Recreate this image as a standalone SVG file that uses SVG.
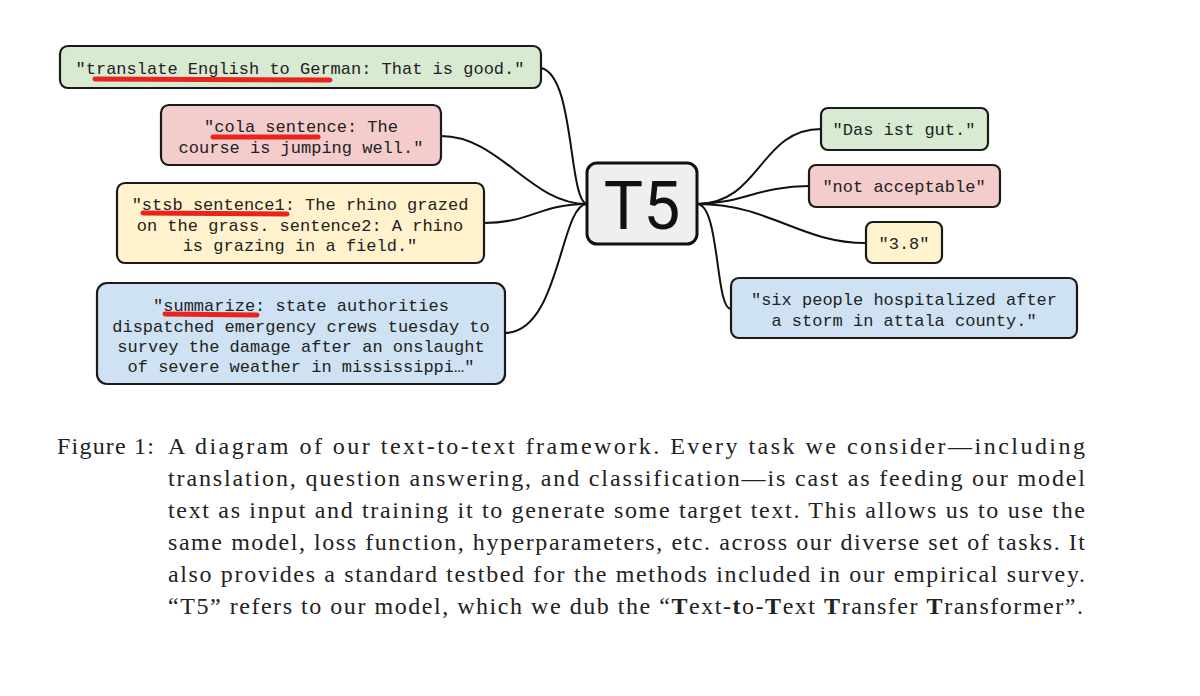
<svg xmlns="http://www.w3.org/2000/svg" width="1200" height="696" viewBox="0 0 1200 696">
<style>
.b{stroke:#1a1a1a;stroke-width:2.2}
.g{fill:#d9ead3}.r{fill:#f4cccc}.y{fill:#fff2cc}.bl{fill:#cfe2f3}
.m{font-family:"Liberation Mono","DejaVu Sans Mono",monospace;font-size:17px;fill:#222;text-anchor:middle}
.u{stroke:#e8241c;stroke-width:5;stroke-linecap:round;fill:none}
.c{fill:none;stroke:#111;stroke-width:2}
.cap{font-family:"Liberation Serif","DejaVu Serif",serif;font-size:24px;fill:#222}
</style>
<rect width="1200" height="696" fill="#fff"/>
<g id="connectors">
<path class="c" d="M541,68 C575,75 568,200 587,204"/>
<path class="c" d="M441,136 C500,136 530,204 587,204"/>
<path class="c" d="M484,223 C530,223 540,204 587,204"/>
<path class="c" d="M505,333 C560,333 560,204 587,204"/>
<path class="c" d="M697,204 C760,204 760,129 821,129"/>
<path class="c" d="M697,204 C740,204 760,186 809,186"/>
<path class="c" d="M697,204 C770,204 800,243 866,243"/>
<path class="c" d="M697,204 C720,204 715,309 731,309"/>
</g>
<g id="in1"><rect class="b g" x="60" y="46" width="481" height="42" rx="8"/><text class="m" x="300" y="74">"translate English to German: That is good."</text><path class="u" d="M95,79 L330,80"/></g>
<g id="in2"><rect class="b r" x="161" y="105" width="280" height="60" rx="8"/><text class="m" x="301" y="132">"cola sentence: The</text><text class="m" x="301" y="153">course is jumping well."</text><path class="u" d="M213,137 L318,137"/></g>
<g id="in3"><rect class="b y" x="117" y="183" width="367" height="80" rx="8"/><text class="m" x="300" y="210">"stsb sentence1: The rhino grazed</text><text class="m" x="300" y="231">on the grass. sentence2: A rhino</text><text class="m" x="300" y="251">is grazing in a field."</text><path class="u" d="M143,213 L287,214"/></g>
<g id="in4"><rect class="b bl" x="97" y="283" width="408" height="101" rx="10"/><text class="m" x="301" y="311">"summarize: state authorities</text><text class="m" x="301" y="332">dispatched emergency crews tuesday to</text><text class="m" x="301" y="352">survey the damage after an onslaught</text><text class="m" x="301" y="372">of severe weather in mississippi…"</text><path class="u" d="M165,314 L257,315"/></g>
<g id="t5"><rect x="587" y="163" width="110" height="81" rx="10" fill="#efefef" stroke="#111" stroke-width="3"/><text x="642" y="229" font-family="Roboto,'Liberation Sans',sans-serif" font-size="66" text-anchor="middle" fill="#111">T5</text></g>
<g id="out1"><rect class="b g" x="821" y="108" width="167" height="42" rx="7"/><text class="m" x="904" y="135">"Das ist gut."</text></g>
<g id="out2"><rect class="b r" x="809" y="165" width="191" height="42" rx="7"/><text class="m" x="904" y="192">"not acceptable"</text></g>
<g id="out3"><rect class="b y" x="866" y="222" width="76" height="41" rx="7"/><text class="m" x="904" y="249">"3.8"</text></g>
<g id="out4"><rect class="b bl" x="731" y="278" width="346" height="60" rx="8"/><text class="m" x="904" y="305">"six people hospitalized after</text><text class="m" x="904" y="326">a storm in attala county."</text></g>
<g id="caption">
<text class="cap" x="57" y="454" textLength="97" lengthAdjust="spacing">Figure 1:</text>
<text class="cap" x="168" y="454" textLength="917" lengthAdjust="spacing">A diagram of our text-to-text framework. Every task we consider—including</text>
<text class="cap" x="168" y="486" textLength="917" lengthAdjust="spacing">translation, question answering, and classification—is cast as feeding our model</text>
<text class="cap" x="168" y="518" textLength="917" lengthAdjust="spacing">text as input and training it to generate some target text. This allows us to use the</text>
<text class="cap" x="168" y="550" textLength="917" lengthAdjust="spacing">same model, loss function, hyperparameters, etc. across our diverse set of tasks. It</text>
<text class="cap" x="168" y="582" textLength="917" lengthAdjust="spacing">also provides a standard testbed for the methods included in our empirical survey.</text>
<text class="cap" x="168" y="614" textLength="915" lengthAdjust="spacing">“T5” refers to our model, which we dub the “<tspan font-weight="bold">T</tspan>ext-<tspan font-weight="bold">t</tspan>o-<tspan font-weight="bold">T</tspan>ext <tspan font-weight="bold">T</tspan>ransfer <tspan font-weight="bold">T</tspan>ransformer”.</text>
</g>
</svg>
